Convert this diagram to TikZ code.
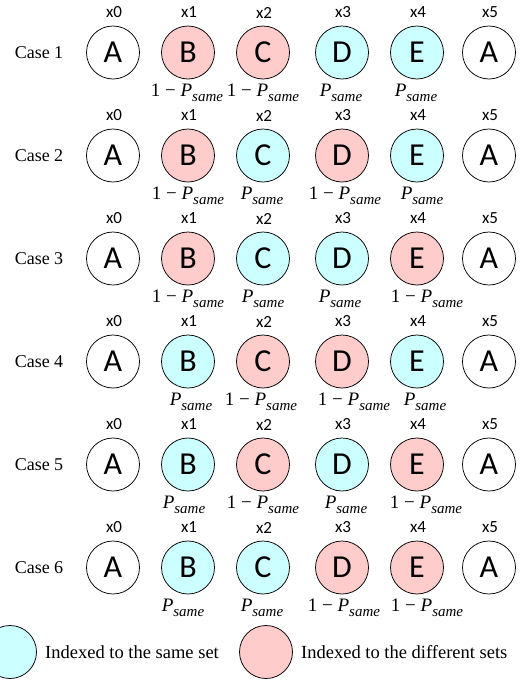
\documentclass[tikz,border=0pt]{standalone}
\usepackage{fontspec}
\setmainfont{Liberation Serif}
\newfontfamily\calfont{Carlito}
\definecolor{colD}{HTML}{FFCCCC}
\definecolor{colS}{HTML}{CCFFFF}
\newcommand\psame{\textit{P}\raisebox{-0.27em}{\fontsize{15}{15}\selectfont\textit{same}}}
\newcommand\labD{1 − \psame}
\newcommand\labS{\psame}
\begin{document}
\begin{tikzpicture}[x=1pt,y=-1pt,
  ball/.style={circle,draw=black,line width=0.75pt,minimum size=53pt,inner sep=0pt,
    font=\calfont\fontsize{32}{32}\selectfont},
  idx/.style={font=\calfont\fontsize{17}{19}\selectfont,inner sep=0pt},
  prob/.style={font=\fontsize{19}{21}\selectfont,inner sep=0pt,anchor=base},
  casel/.style={font=\fontsize{18}{20}\selectfont,inner sep=0pt},
  legtext/.style={font=\fontsize{18.5}{20}\selectfont,anchor=west,inner sep=0pt}]
\clip (0,0) rectangle (532,683);
\foreach \r/\kb/\kc/\kd/\ke/\ob/\oc/\od/\oe in {
  1/D/D/S/S/-1/0/-1/-1,
  2/D/S/D/S/0/-1/3/5,
  3/D/S/S/D/0/0/-2/10,
  4/S/D/D/S/3/-2/12/8,
  5/S/D/S/D/-4/0/4/9,
  6/S/S/D/D/-5/-1/2/10}{
  \pgfmathsetmacro\y{52.5+103*(\r-1)}
  \node[casel] (case\r) at (39,\y) {Case \r};
  \node[ball] (a\r) at (113,\y) {A};
  \node[ball,fill=col\kb] (b\r) at (188,\y) {B};
  \node[ball,fill=col\kc] (c\r) at (263,\y) {C};
  \node[ball,fill=col\kd] (d\r) at (342,\y) {D};
  \node[ball,fill=col\ke] (e\r) at (417,\y) {E};
  \node[ball] (f\r) at (489,\y) {A};
  \foreach \c/\xx in {0/114,1/189,2/264,3/343,4/418,5/490}
    \node[idx] (x\c-\r) at (\xx,\y-40) {x\c};
  \node[prob] (pb\r) at (188+\ob,\y+44) {\csname lab\kb\endcsname};
  \node[prob] (pc\r) at (263+\oc,\y+44) {\csname lab\kc\endcsname};
  \node[prob] (pd\r) at (342+\od,\y+44) {\csname lab\kd\endcsname};
  \node[prob] (pe\r) at (417+\oe,\y+44) {\csname lab\ke\endcsname};
}
\node[ball,fill=colS] (legS) at (10,652) {};
\node[legtext] (legSt) at (45,652) {Indexed to the same set};
\node[ball,fill=colD] (legD) at (266,652) {};
\node[legtext] (legDt) at (301,652) {Indexed to the different sets};
\end{tikzpicture}
\end{document}
